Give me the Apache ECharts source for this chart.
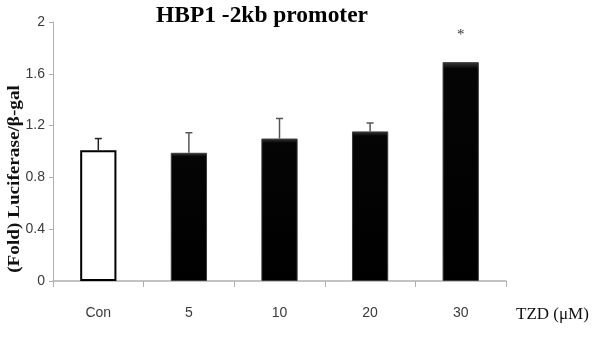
<!DOCTYPE html>
<html><head><meta charset="utf-8">
<script src="https://cdn.jsdelivr.net/npm/echarts@6/dist/echarts.min.js"></script>
<style>html,body{margin:0;padding:0;background:#fff}#c{width:595px;height:363px}</style>
</head><body><div id="c"></div>
<script>
const categories = ['Con', '5', '10', '20', '30'];
const means = [1.01, 0.99, 1.10, 1.155, 1.69];
const errorsUp = [0.09, 0.155, 0.155, 0.065, 0];
const significance = ['', '', '', '', '*'];
const yTicks = [0, 0.4, 0.8, 1.2, 1.6, 2];

const chart = echarts.init(document.getElementById('c'));
const barData = means.map((v, i) => ({
  value: v,
  itemStyle: i === 0
    ? { color: '#ffffff', borderColor: '#000', borderWidth: 2 }
    : { color: new echarts.graphic.LinearGradient(0, 0, 0, 1, [
        { offset: 0, color: '#3a3a3a' }, { offset: 0.03, color: '#050505' }, { offset: 1, color: '#000' }]),
        borderColor: '#3a3a3a', borderWidth: 1 },
  label: { show: significance[i] !== '', formatter: significance[i], position: 'top', distance: 20,
           color: '#333', fontSize: 15, fontFamily: 'Liberation Serif' }
}));

chart.setOption({
  animation: false,
  graphic: [
    { type: 'text', x: 262, y: 5, scaleX: 1.02,
      style: { text: 'HBP1 -2kb promoter', font: 'bold 23px "Liberation Serif"', fill: '#000', align: 'center', verticalAlign: 'top' } },
    { type: 'text', x: 15, y: 179, rotation: Math.PI / 2, scaleX: 1.2,
      style: { text: '(Fold) Luciferase/\u03b2-gal', font: 'bold 16px "Liberation Serif"', fill: '#111', align: 'center', verticalAlign: 'middle' } }
  ],
  grid: { left: 53, right: 89, top: 22, bottom: 82, containLabel: false, outerBoundsMode: 'none' },
  xAxis: {
    type: 'category', data: categories,
    axisLine: { lineStyle: { color: '#b0b0b0', width: 1.5 } },
    axisTick: { show: true, length: 6, lineStyle: { color: '#b0b0b0' } },
    axisLabel: { margin: 25, fontFamily: 'Liberation Sans', fontSize: 14, color: '#3a3a3a' },
    name: 'TZD (\u03bcM)', nameLocation: 'end', nameGap: 10,
    nameTextStyle: { fontFamily: 'Liberation Serif', fontSize: 17, color: '#111', padding: [25, 0, 0, 0], verticalAlign: 'top' }
  },
  yAxis: {
    type: 'value', min: 0, max: 2, interval: 0.4,
    splitLine: { show: false },
    axisLine: { show: true, lineStyle: { color: '#b0b0b0', width: 1 } },
    axisTick: { show: true, length: 4, lineStyle: { color: '#b0b0b0' } },
    axisLabel: { fontFamily: 'Liberation Sans', fontSize: 14, color: '#3a3a3a', margin: 8,
      formatter: v => { const t = yTicks.find(x => Math.abs(x - v) < 1e-9); return t === undefined ? '' : String(t); } }
  },
  series: [
    { type: 'bar', data: barData, barWidth: '40%', z: 2 },
    { type: 'custom', z: 1,
      data: means.map((v, i) => [i, v, v + errorsUp[i]]),
      renderItem: (params, api) => {
        const i = api.value(0);
        if (errorsUp[i] <= 0) return null;
        const p0 = api.coord([i, api.value(1)]);
        const p1 = api.coord([i, api.value(2)]);
        const col = i === 0 ? '#222' : '#555';
        return { type: 'group', children: [
          { type: 'line', shape: { x1: p0[0], y1: p0[1], x2: p1[0], y2: p1[1] }, style: { stroke: col, lineWidth: 1.5 } },
          { type: 'line', shape: { x1: p1[0] - 3.5, y1: p1[1], x2: p1[0] + 3.5, y2: p1[1] }, style: { stroke: col, lineWidth: 1.5 } }
        ] };
      } }
  ]
});
</script></body></html>
